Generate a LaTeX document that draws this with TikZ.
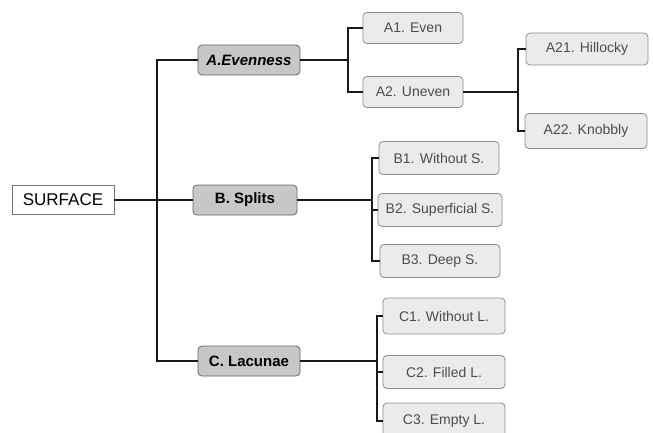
\documentclass[tikz,border=0pt]{standalone}
\usepackage{fontspec}
\setmainfont{Liberation Sans}
\begin{document}
\begin{tikzpicture}[x=1pt,y=-1pt,
    root/.style={draw=black!55,fill=white,line width=.8pt,minimum width=102pt,minimum height=29pt,inner sep=2pt,font=\fontsize{17}{19}\selectfont},
    branch/.style={draw=black!60,fill=black!22,rounded corners=4pt,line width=.8pt,minimum width=102pt,minimum height=30pt,inner sep=2pt,font=\bfseries\fontsize{15}{17}\selectfont},
    leaf/.style={draw=black!45,fill=black!8,rounded corners=4pt,line width=.8pt,minimum width=120pt,minimum height=33pt,inner sep=1pt,text=black!70,font=\fontsize{14}{16}\selectfont},
    link/.style={line width=1.6pt,black!90}]
  \useasboundingbox (0,0) rectangle (653,433);
  % first level
  \node[root] (surf) at (63,200) {SURFACE};
  \node[branch,font=\bfseries\itshape\fontsize{15}{17}\selectfont] (even) at (249,60) {A.Evenness};
  \node[branch,minimum width=104pt] (split) at (245,200) {B. Splits};
  \node[branch] (lac) at (249,361) {C. Lacunae};
  % leaves
  \node[leaf,minimum width=100pt,minimum height=31pt] (a1) at (413,28) {A1. Even};
  \node[leaf,minimum width=100pt,minimum height=31pt] (a2) at (413,92) {A2. Uneven};
  \node[leaf,minimum width=122pt,minimum height=32pt] (a21) at (587,49) {A21. Hillocky};
  \node[leaf,minimum width=122pt,minimum height=35pt] (a22) at (586,131) {A22. Knobbly};
  \node[leaf] (b1) at (439,158) {B1. Without S.};
  \node[leaf,minimum width=124pt] (b2) at (440,210) {B2. Superficial S.};
  \node[leaf] (b3) at (440,261) {B3. Deep S.};
  \node[leaf,minimum width=122pt,minimum height=36pt] (c1) at (444,316) {C1. Without L.};
  \node[leaf,minimum width=122pt] (c2) at (444,372) {C2. Filled L.};
  \node[leaf,minimum width=122pt,minimum height=36pt] (c3) at (444,421) {C3. Empty L.};
  % spines
  \coordinate (sp) at (157,200);
  \coordinate (spa) at (348,60);
  \coordinate (spa2) at (518,92);
  \coordinate (spb) at (372,200);
  \coordinate (spc) at (377,361);
  \draw[link] (surf.east) -- (sp) -- (split.west);
  \draw[link] (sp) |- (even.west);
  \draw[link] (sp) |- (lac.west);
  \draw[link] (even.east) -- (spa);
  \draw[link] (spa) |- (a1.west);
  \draw[link] (spa) |- (a2.west);
  \draw[link] (a2.east) -- (spa2);
  \draw[link] (spa2) |- (a21.west);
  \draw[link] (spa2) |- (a22.west);
  \draw[link] (split.east) -- (spb);
  \draw[link] (spb) |- (b1.west);
  \draw[link] (spb) |- (b2.west);
  \draw[link] (spb) |- (b3.west);
  \draw[link] (lac.east) -- (spc);
  \draw[link] (spc) |- (c1.west);
  \draw[link] (spc) |- (c2.west);
  \draw[link] (spc) |- (c3.west);
\end{tikzpicture}
\end{document}
